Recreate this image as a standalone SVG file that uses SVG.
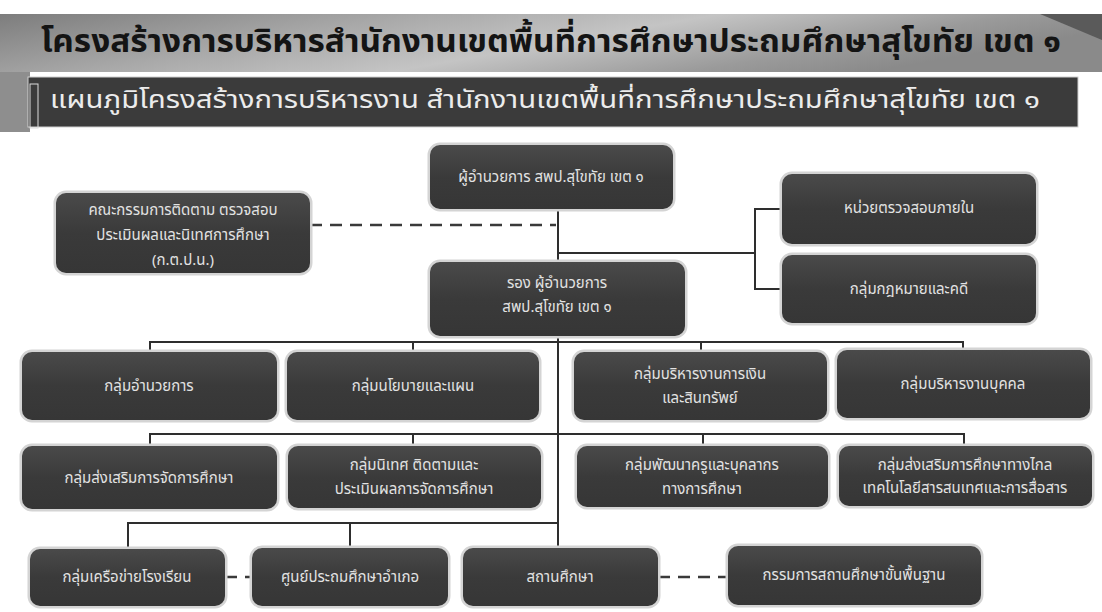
<svg xmlns="http://www.w3.org/2000/svg" width="1102" height="612" viewBox="0 0 1102 612">
<defs>
<linearGradient id="band" x1="0" y1="0" x2="1" y2="0.3">
<stop offset="0" stop-color="#7d7d7d"/>
<stop offset="0.35" stop-color="#a9a9a9"/>
<stop offset="0.6" stop-color="#c4c4c4"/>
<stop offset="0.85" stop-color="#9a9a9a"/>
<stop offset="1" stop-color="#8a8a8a"/>
</linearGradient>
<linearGradient id="boxg" x1="0" y1="0" x2="0" y2="1">
<stop offset="0" stop-color="#4a4a4a"/>
<stop offset="0.5" stop-color="#3a3a3a"/>
<stop offset="1" stop-color="#363636"/>
</linearGradient>
<style>
.box{fill:url(#boxg);stroke:#d4d4d4;stroke-width:5;paint-order:stroke}
.t{font-family:"Noto Sans Thai","Noto Sans","DejaVu Sans",sans-serif;font-size:15px;fill:#e2e2e2;text-anchor:middle;dominant-baseline:central}
.ln{stroke:#2e2e2e;stroke-width:2;fill:none}
.dash{stroke:#3a3a3a;stroke-width:2.5;fill:none;stroke-dasharray:12 8}
.title{font-family:"Noto Sans Thai","Noto Sans","DejaVu Sans",sans-serif;font-size:32px;font-weight:bold;fill:#141414;text-anchor:middle;dominant-baseline:central}
.sub{font-family:"Noto Sans Thai","Noto Sans","DejaVu Sans",sans-serif;font-size:24px;fill:#ececec;text-anchor:middle;dominant-baseline:central}
</style>
</defs>
<rect width="1102" height="612" fill="#ffffff"/>
<g id="header">
<rect x="0" y="14" width="1102" height="58" fill="url(#band)"/>
<rect x="0" y="72" width="30" height="60" fill="#8e8e8e"/>
<polygon points="1040,14 1102,14 1102,40" fill="#5a5a5a"/>
<text class="title" x="551" y="42" textLength="1020" lengthAdjust="spacingAndGlyphs">โครงสร้างการบริหารสำนักงานเขตพื้นที่การศึกษาประถมศึกษาสุโขทัย เขต ๑</text>
<rect x="28" y="77" width="1050" height="50" fill="#3b3b3b" stroke="#cfcfcf" stroke-width="1"/>
<rect x="30" y="84" width="8" height="44" fill="none" stroke="#dcdcdc" stroke-width="1"/>
<text class="sub" x="545" y="101" textLength="990" lengthAdjust="spacingAndGlyphs">แผนภูมิโครงสร้างการบริหารงาน สำนักงานเขตพื้นที่การศึกษาประถมศึกษาสุโขทัย เขต ๑</text>
</g>
<g id="connectors">
<line class="ln" x1="558" y1="209" x2="558" y2="548"/>
<polyline class="ln" points="558,253 755,253"/>
<polyline class="ln" points="782,209 755,209 755,289 782,289"/>
<line class="dash" x1="310" y1="225" x2="556" y2="225"/>
<polyline class="ln" points="150,352 150,342 963,342 963,350"/>
<line class="ln" x1="413" y1="342" x2="413" y2="352"/>
<line class="ln" x1="701" y1="342" x2="701" y2="352"/>
<polyline class="ln" points="150,446 150,434 964,434 964,446"/>
<line class="ln" x1="413" y1="434" x2="413" y2="446"/>
<line class="ln" x1="703" y1="434" x2="703" y2="446"/>
<polyline class="ln" points="128,548 128,523 558,523"/>
<line class="ln" x1="350" y1="523" x2="350" y2="548"/>
<line class="dash" x1="225" y1="577" x2="252" y2="577"/>
<line class="dash" x1="658" y1="577" x2="728" y2="577"/>
</g>
<g id="director"><rect class="box" x="430" y="145" width="243" height="64" rx="10"/><text class="t" x="551" y="177">ผู้อำนวยการ สพป.สุโขทัย เขต ๑</text></g>
<g id="committee"><rect class="box" x="56" y="193" width="254" height="80" rx="10"/><text class="t" x="183" y="210">คณะกรรมการติดตาม ตรวจสอบ</text><text class="t" x="183" y="235">ประเมินผลและนิเทศการศึกษา</text><text class="t" x="183" y="260">(ก.ต.ป.น.)</text></g>
<g id="audit"><rect class="box" x="782" y="174" width="254" height="70" rx="10"/><text class="t" x="909" y="208">หน่วยตรวจสอบภายใน</text></g>
<g id="legal"><rect class="box" x="782" y="255" width="254" height="68" rx="10"/><text class="t" x="909" y="289">กลุ่มกฎหมายและคดี</text></g>
<g id="deputy"><rect class="box" x="430" y="262" width="255" height="74" rx="10"/><text class="t" x="557" y="283">รอง ผู้อำนวยการ</text><text class="t" x="557" y="307">สพป.สุโขทัย เขต ๑</text></g>
<g id="admin"><rect class="box" x="22" y="352" width="255" height="68" rx="10"/><text class="t" x="149" y="386">กลุ่มอำนวยการ</text></g>
<g id="policy"><rect class="box" x="287" y="352" width="252" height="68" rx="10"/><text class="t" x="413" y="386">กลุ่มนโยบายและแผน</text></g>
<g id="finance"><rect class="box" x="574" y="352" width="253" height="68" rx="10"/><text class="t" x="700" y="374">กลุ่มบริหารงานการเงิน</text><text class="t" x="700" y="398">และสินทรัพย์</text></g>
<g id="personnel"><rect class="box" x="837" y="350" width="253" height="68" rx="10"/><text class="t" x="963" y="384">กลุ่มบริหารงานบุคคล</text></g>
<g id="promotion"><rect class="box" x="22" y="446" width="255" height="63" rx="10"/><text class="t" x="149" y="478">กลุ่มส่งเสริมการจัดการศึกษา</text></g>
<g id="supervision"><rect class="box" x="288" y="446" width="253" height="62" rx="10"/><text class="t" x="414" y="465">กลุ่มนิเทศ ติดตามและ</text><text class="t" x="414" y="489">ประเมินผลการจัดการศึกษา</text></g>
<g id="teacher"><rect class="box" x="577" y="446" width="251" height="61" rx="10"/><text class="t" x="702" y="465">กลุ่มพัฒนาครูและบุคลากร</text><text class="t" x="702" y="489">ทางการศึกษา</text></g>
<g id="distance"><rect class="box" x="839" y="446" width="253" height="60" rx="10"/><text class="t" x="965" y="465">กลุ่มส่งเสริมการศึกษาทางไกล</text><text class="t" x="965" y="488">เทคโนโลยีสารสนเทศและการสื่อสาร</text></g>
<g id="network"><rect class="box" x="30" y="549" width="195" height="57" rx="10"/><text class="t" x="127" y="577">กลุ่มเครือข่ายโรงเรียน</text></g>
<g id="district"><rect class="box" x="252" y="548" width="196" height="58" rx="10"/><text class="t" x="350" y="577">ศูนย์ประถมศึกษาอำเภอ</text></g>
<g id="school"><rect class="box" x="463" y="548" width="195" height="58" rx="10"/><text class="t" x="560" y="577">สถานศึกษา</text></g>
<g id="board"><rect class="box" x="728" y="546" width="253" height="59" rx="10"/><text class="t" x="854" y="575">กรรมการสถานศึกษาขั้นพื้นฐาน</text></g>
</svg>
